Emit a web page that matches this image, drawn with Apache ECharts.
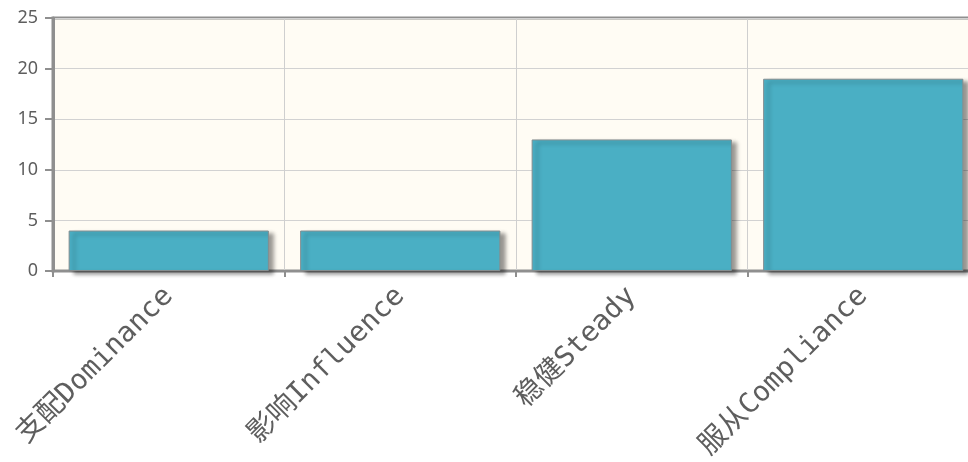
<!DOCTYPE html>
<html>
<head>
<meta charset="utf-8">
<script src="https://cdn.jsdelivr.net/npm/echarts@6/dist/echarts.min.js"></script>
<style>
  html, body { margin: 0; padding: 0; background: #fff; }
  #chart { width: 968px; height: 462px; }
</style>
</head>
<body>
<div id="chart"></div>
<script>
// 数据
const categories = ['支配Dominance', '影响Influence', '稳健Steady', '服从Compliance']
const scores = [4, 4, 13, 19]
const yTicks = { min: 0, max: 25, interval: 5 }

const chart = echarts.init(document.getElementById('chart'))

const option = {
  animation: false,
  grid: {
    left: 53,
    right: -11,
    top: 18,
    bottom: 191,
    outerBoundsMode: 'none',
    show: true,
    backgroundColor: '#fffcf4',
    borderColor: '#8f8f8f',
    borderWidth: 3
  },
  xAxis: {
    type: 'category',
    data: categories,
    axisLine: { lineStyle: { color: '#8f8f8f', width: 2 } },
    axisTick: { show: true, length: 6, lineStyle: { color: '#8f8f8f', width: 2 } },
    splitLine: { show: true, lineStyle: { color: '#cfcfcf', width: 1 } },
    axisLabel: {
      rotate: 45,
      margin: 21,
      color: '#5e5e5e',
      fontSize: 28,
      fontFamily: 'DejaVu Sans Mono, Noto Sans CJK SC'
    }
  },
  yAxis: {
    type: 'value',
    min: yTicks.min,
    max: yTicks.max,
    interval: yTicks.interval,
    axisLine: { show: true, lineStyle: { color: '#8f8f8f', width: 3 } },
    axisTick: { show: true, length: 8, lineStyle: { color: '#8f8f8f', width: 2 } },
    splitLine: { show: true, lineStyle: { color: '#d2d2d2', width: 1 } },
    axisLabel: {
      margin: 15,
      color: '#5e5e5e',
      fontSize: 18,
      fontFamily: 'Noto Sans'
    }
  },
  series: [{
    type: 'bar',
    data: scores,
    barCategoryGap: '13.5%',
    itemStyle: {
      color: '#4aafc4',
      borderColor: '#858d8f',
      borderWidth: 1,
      shadowColor: 'rgba(0,0,0,0.4)',
      shadowBlur: 4,
      shadowOffsetX: 5,
      shadowOffsetY: 3
    }
  }]
}

chart.setOption(option)
</script>
</body>
</html>
